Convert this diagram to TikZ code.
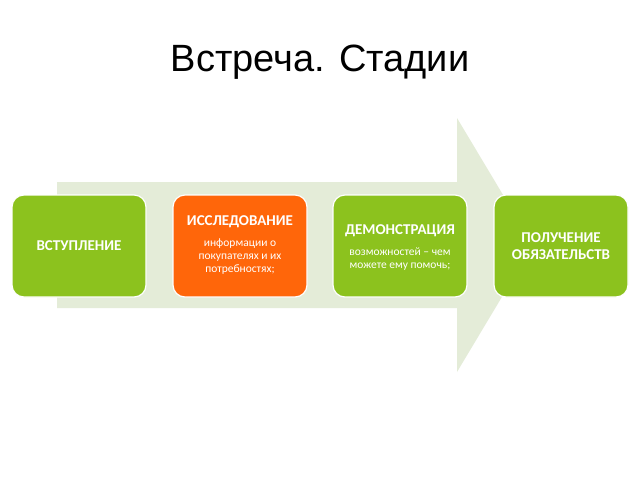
\documentclass[tikz,border=0pt]{standalone}
\usepackage{fontspec}
\setmainfont{Liberation Sans}
\newfontfamily\boxfont{Carlito}
\definecolor{stagegreen}{RGB}{140,194,30}
\definecolor{stageorange}{RGB}{255,102,10}
\definecolor{arrowfill}{RGB}{228,236,216}
\begin{document}
\begin{tikzpicture}[x=1pt,y=-1pt,
  stagebox/.style={draw=white, line width=1.2pt, rounded corners=12pt, minimum width=134pt, minimum height=102pt, inner sep=0pt, text=white, align=center, font=\boxfont\fontsize{15}{17}\selectfont\bfseries},
  green/.style={fill=stagegreen},
  orange/.style={fill=stageorange},
  boxtitle/.style={text=white, font=\boxfont\fontsize{15}{18}\selectfont\bfseries},
  boxtext/.style={text=white, align=center, font=\boxfont\fontsize{11.5}{13}\selectfont}]
\useasboundingbox (0,0) rectangle (640,480);
\fill[white] (0,0) rectangle (640,480);
\node[font=\fontsize{38}{42}\selectfont] (title) at (320,62) {Встреча. Стадии};
\fill[arrowfill] (57,182) -- (457,182) -- (457,118) -- (533,245) -- (457,372) -- (457,308) -- (57,308) -- cycle;
\node[stagebox, green] (s1) at (79,246) {ВСТУПЛЕНИЕ};
\node[stagebox, orange] (s2) at (240,246) {};
\node[stagebox, green] (s3) at (400,246) {};
\node[stagebox, green] (s4) at (561,246) {ПОЛУЧЕНИЕ\\ОБЯЗАТЕЛЬСТВ};
\node[boxtitle] (t2) at (240,222) {ИССЛЕДОВАНИЕ};
\node[boxtext] (d2) at (240,257) {информации о\\покупателях и их\\потребностях;};
\node[boxtitle] (t3) at (400,231) {ДЕМОНСТРАЦИЯ};
\node[boxtext] (d3) at (400,259) {возможностей – чем\\можете ему помочь;};
\end{tikzpicture}
\end{document}
